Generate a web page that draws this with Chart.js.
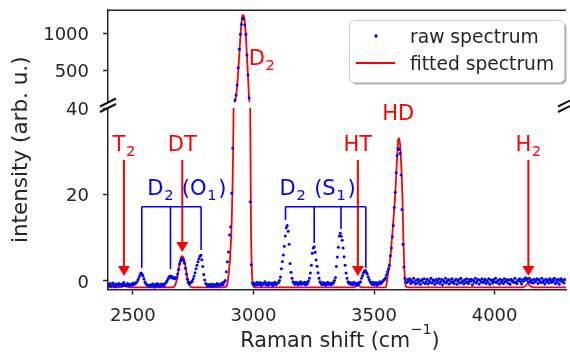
<!DOCTYPE html>
<html><head><meta charset="utf-8">
<script src="https://cdn.jsdelivr.net/npm/chart.js@4.4.1/dist/chart.umd.min.js"></script>
<style>html,body{margin:0;padding:0;background:#fff;overflow:hidden}canvas{display:block}</style>
</head><body>
<canvas id="c" width="570" height="352"></canvas>
<script>
// ---------------- DATA ----------------
const rawShift = [
 2398,2402,2406,2410,2414,2418,2422,2426,2430,2434,2438,2442,2446,2450,2454,2458,2462,2466,2470,2474,2478,2482,2486,2490,2494,2498,2502,2506,2510,
 2514,2518,2522,2526,2530,2534,2538,2542,2546,2550,2554,2558,2562,
 2566,2570,2574,2578,2582,2586,2590,2594,2598,2602,2606,2610,2614,2618,2622,2626,2630,2634,2638,
 2642,2646,2650,2654,2658,2662,2666,2670,2674,2678,
 2682,2686,2690,2694,2698,2702,2706,2710,2714,2718,2722,2726,2730,2734,2738,
 2742,2746,2750,2754,2758,2762,2766,2770,2774,2778,2782,2786,2790,2794,2798,
 2802,2806,2810,2814,2818,2822,2826,2830,2834,2838,2842,2846,2850,2854,2858,2862,2866,2870,2874,2878,
 2883,2887.5,2892,2896.5,2901,2905.5,2910,2914.5,2919,2923.5,2928,2932.5,2937,2941.5,2946,2950.5,2955,2959.5,2964,2968.5,2973,2977.5,2982,2986.5,2991,2995.5,
 3000,3004,3008,3012,3016,3020,3024,3028,3032,3036,3040,3044,3048,3052,3056,3060,3064,3068,3072,3076,3080,3084,3088,3092,3096,3100,3104,3108,
 3112,3116,3120,3124,3128,3132,3136,3140,3144,3148,3152,3156,3160,3164,
 3168,3172,3176,3180,3184,3188,3192,3196,3200,3204,3208,3212,3216,3220,3224,3228,
 3232,3236,3240,3244,3248,3252,3256,3260,3264,3268,3272,3276,
 3280,3284,3288,3292,3296,3300,3304,3308,3312,3316,3320,3324,3328,3332,3336,3340,
 3344,3348,3352,3356,3360,3364,3368,3372,3376,3380,3384,3388,
 3392,3396,3400,3404,3408,3412,3416,3420,3424,3428,3432,3436,3440,3444,3448,
 3452,3456,3460,3464,3468,3472,3476,3480,3484,
 3488,3492,3496,3500,3504,3508,3512,3516,3520,3524,3528,3532,3536,3540,
 3544,3548,3552,3556,3560,3564,3568,3572,3576,3580,3584,3588,3592,3596,3600,3604,3608,3612,3616,3620,3624,3628,3632,
 3636,3640,3644,3648,3652,3656,3660,3664,3668,3672,
 3676,3680,3684,3688,3692,3696,3700,3704,3708,3712,
 3716,3720,3724,3728,3732,3736,3740,3744,3748,3752,
 3756,3760,3764,3768,3772,3776,3780,3784,3788,3792,
 3796,3800,3804,3808,3812,3816,3820,3824,3828,3832,
 3836,3840,3844,3848,3852,3856,3860,3864,3868,3872,
 3876,3880,3884,3888,3892,3896,3900,3904,3908,3912,
 3916,3920,3924,3928,3932,3936,3940,3944,3948,3952,
 3956,3960,3964,3968,3972,3976,3980,3984,3988,3992,
 3996,4000,4004,4008,4012,4016,4020,4024,4028,4032,
 4036,4040,4044,4048,4052,4056,4060,4064,4068,4072,
 4076,4080,4084,4088,4092,4096,4100,4104,4108,4112,
 4116,4120,4124,4128,4132,4136,4140,4144,4148,4152,
 4156,4160,4164,4168,4172,4176,4180,4184,4188,4192,
 4196,4200,4204,4208,4212,4216,4220,4224,4228,4232,
 4236,4240,4244,4248,4252,4256,4260,4264,4268,4272,
 4276,4280,4284,4288,4292
];
const rawIntensity = [
 -0.8,-1.1,-0.6,-1.2,-0.9,-0.5,-1.0,-1.3,-0.7,-0.9,-1.1,-0.6,-1.0,-0.8,-1.2,-0.7,-0.4,-1.0,-0.9,-1.1,-0.6,-0.8,-1.2,-0.9,-0.7,-1.0,-0.5,-0.8,-0.6,
 -0.4,-0.2,0.3,0.9,1.4,1.8,1.6,1.2,0.5,-0.2,-0.6,-0.9,-1.0,
 -1.1,-1.3,-0.9,-1.2,-0.7,-1.0,-1.4,-0.8,-1.1,-0.6,-1.2,-0.9,-1.3,-0.7,-1.0,-0.8,-1.2,-0.6,-0.4,
 0.0,0.5,0.9,1.1,0.8,1.0,0.6,0.8,0.5,0.7,
 0.8,1.6,2.6,3.9,4.6,5.2,5.0,4.7,4.1,2.9,1.6,0.4,-0.4,-0.7,-0.3,
 -0.4,-0.1,0.5,1.1,1.9,2.8,3.6,4.4,5.1,5.7,5.9,4.9,3.3,1.5,0.2,
 -0.6,-0.8,-1.3,-0.9,-1.2,-0.7,-1.0,-1.3,-0.8,-1.1,-0.9,-1.2,-0.6,-1.0,-0.8,-1.1,-0.7,-0.5,-0.9,-0.3,
 0.1,2.1,4.4,6.7,10.6,12.5,20.3,30.7,62,108,175,309,540,786,987,1120,1200,1191,1111,987,710,443,139,18.3,3.7,-0.5,
 -0.8,-0.5,-1.0,-0.6,-0.3,-0.9,-0.7,-0.4,-1.1,-0.6,-0.8,-0.5,-0.2,-0.9,-0.6,-1.0,-0.4,-0.7,-0.8,-0.5,-1.2,-0.6,-0.3,-0.9,-0.7,-0.5,-0.4,0.1,
 0.9,2.8,4.5,6.0,8.0,10.4,12.3,12.8,11.5,8.5,4.0,2.0,0.6,-0.2,
 -0.5,-0.8,-0.3,-0.6,-0.9,-0.4,-0.7,-0.2,-0.8,-0.5,-0.6,-0.3,-0.9,-0.4,-0.7,-0.1,
 0.6,1.8,3.6,6.4,7.6,7.9,6.6,4.8,3.4,1.9,0.6,-0.2,
 -0.6,-0.9,-0.4,-0.8,-0.5,-1.0,-0.7,-0.3,-0.8,-0.6,-0.9,-0.5,-0.7,-0.4,0.1,0.8,
 3.3,5.5,7.8,10.4,11.0,10.3,9.4,7.6,5.6,3.6,1.8,0.6,
 -0.2,-0.6,-0.4,-0.8,-0.5,-0.9,-0.3,-0.7,-0.6,-1.0,-0.5,-0.8,-0.4,-0.2,0.6,
 1.2,1.8,2.2,2.4,2.0,1.6,0.9,0.3,-0.2,
 -0.5,-0.8,-0.3,-0.9,-0.6,-0.4,-1.0,-0.5,-0.7,-0.2,-0.6,-0.4,-0.1,0.2,
 0.3,0.7,1.4,2.1,2.8,3.6,5.8,7.6,10.2,12.8,17.0,20.5,25.0,29.0,30.6,30.4,29.5,24.5,16.5,8.5,3.2,0.6,-0.2,
 -0.4,0.3,-0.1,0.5,-0.6,0.1,-0.3,0.6,-0.2,-0.7,
 0.2,-0.5,0.4,-0.1,-0.8,0.0,0.3,-0.4,0.5,-0.6,
 -0.2,0.4,-0.7,0.1,-0.3,0.6,-0.5,0.2,-0.1,-0.8,
 0.3,-0.4,0.0,0.5,-0.6,-0.2,0.4,-0.9,0.1,-0.3,
 0.6,-0.5,-0.1,0.3,-0.7,0.2,-0.4,0.5,-0.2,-0.6,
 0.1,0.4,-0.8,-0.1,0.3,-0.5,0.6,-0.3,0.0,-0.7,
 0.2,-0.4,0.5,-0.2,-0.6,0.3,-0.1,0.4,-0.9,0.1,
 -0.3,0.6,-0.5,0.0,0.3,-0.7,0.2,-0.2,0.5,-0.4,
 -0.1,0.4,-0.6,0.1,-0.3,0.5,-0.8,0.2,0.0,-0.5,
 0.3,-0.2,0.6,-0.4,-0.1,0.2,-0.7,0.4,-0.3,0.1,
 -0.6,0.5,-0.2,0.0,0.3,-0.5,0.2,-0.8,0.4,-0.1,
 0.1,-0.4,0.6,-0.3,-0.6,0.2,0.0,0.5,-0.2,-0.7,
 0.3,-0.1,0.4,0.7,0.2,0.5,-0.3,0.6,0.1,-0.4,
 0.2,-0.5,0.4,-0.2,0.0,0.5,-0.6,0.3,-0.1,-0.4,
 0.6,-0.3,0.1,-0.7,0.4,-0.2,0.2,-0.5,0.5,0.0,
 -0.4,0.3,-0.1,0.6,-0.6,0.2,-0.3,0.4,-0.8,0.1,
 0.5,-0.2,0.2,-0.5,0.3
];
const fitShift = [2397,2440,2455,2465,2475,2490,2660,2672,2678,2682,2686,2692,2697,2702,2706,2710,2715,2720,2725,2730,2737,2745,
 2870,2885,2892,2898,2904,2910,2915,2920,2925,2930,2935,2940,2945,2950,2955,2958,2962,2966,2970,2974,2978,2982,2986,2990,2994,2998,3005,
 3415,3425,3433,3441,3450,
 3540,3549,3556,3563,3569,3576,3583,3590,3595,3600,3603,3607,3611,3615,3618,3622,3625,3628,3632,3638,
 4110,4125,4138,4150,4162,4296];
const fitIntensity = [-1.5,-1.5,-1.35,-1.2,-1.35,-1.5,-1.5,-1.3,-0.6,0.2,1.5,3.5,4.9,5.6,5.7,5.4,4.4,2.8,1.0,-0.3,-1.2,-1.5,
 -1.5,-1.4,-0.6,2,6,14,27,52,110,215,400,640,900,1120,1240,1245,1205,1090,880,640,390,130,45,12,2,-1,-1.5,
 -1.5,-1.3,-1.0,-1.3,-1.5,
 -1.5,-1.5,1.0,3.3,6.2,10.9,16.1,22,28,32.5,33,32,29,24,19,9,4,0.5,-1.2,-1.5,
 -1.5,-1.3,-0.7,-1.3,-1.5,-1.5];

const xTicks = [2500, 3000, 3500, 4000];
const lowTicks = [0, 20, 40];
const highTicks = [500, 1000];

// Q-branch markers (red arrows)
const qLabels = ['T_2', 'DT', 'HT', 'H_2'];
const qShift = [2463, 2705, 3433, 4140];
const qArrowTip = [1.12, 6.68, 1.12, 1.12];
const qLabelLevel = 30.05;
const qArrowTail = 27.97;
const hdLabel = 'HD', hdShift = 3600, hdLevel = 37.3;
const d2Label = 'D_2', d2Shift = 2981, d2Level = 576;

// D2 O1 / S1 combs (blue)
const o1Label = 'D_2 (O_1)', o1LabelShift = 2724;
const o1Lines = [2537, 2656, 2783];
const o1Ends = [2.98, 2.7, 7.14];
const s1Label = 'D_2 (S_1)', s1LabelShift = 3266;
const s1Lines = [3133, 3252, 3363, 3466];
const s1Ends = [14.08, 8.76, 12.0, 2.98];
const combLevel = 17.16, combLabelLevel = 19.87;

const legendLabels = ['raw spectrum', 'fitted spectrum'];

// ---------------- RENDER ----------------
const RED = '#ff0000', BLUE = '#0000ff', INK = '#262626', FAM = '"DejaVu Sans"';
Chart.defaults.font.family = 'DejaVu Sans';

function parseRich(str) {
  const toks = [];
  for (let i = 0; i < str.length; i++) {
    let c = str[i], k = 'n';
    if ((c === '_' || c === '^') && i + 1 < str.length) { k = c === '_' ? 'sub' : 'sup'; c = str[++i]; }
    const last = toks[toks.length - 1];
    if (last && last.k === k) last.t += c; else toks.push({t: c, k});
  }
  return toks;
}
function drawRich(ctx, str, x, y, size, color, align, gap) {
  gap = gap || 0;
  const toks = parseRich(str);
  let w = 0;
  toks.forEach((tk, i) => {
    tk.size = tk.k === 'n' ? size : size * 0.7; ctx.font = tk.size + 'px ' + FAM;
    tk.w = ctx.measureText(tk.t).width;
    if (tk.k === 'sub' && i < toks.length - 1) tk.w += gap;
    tk.pre = tk.k === 'sub' ? gap * 0.5 : 0;
    w += tk.w + tk.pre;
  });
  let cx = align === 'center' ? x - w / 2 : align === 'right' ? x - w : x;
  ctx.fillStyle = color; ctx.textBaseline = 'alphabetic'; ctx.textAlign = 'left';
  toks.forEach(tk => {
    ctx.font = tk.size + 'px ' + FAM;
    const dy = tk.k === 'sub' ? size * 0.22 : tk.k === 'sup' ? -size * 0.62 : 0;
    cx += tk.pre;
    ctx.fillText(tk.t, cx, y + dy); cx += tk.w;
  });
}
function line(ctx, x1, y1, x2, y2) { ctx.beginPath(); ctx.moveTo(x1, y1); ctx.lineTo(x2, y2); ctx.stroke(); }
function arrow(ctx, x, yTail, yTip, color) {
  ctx.strokeStyle = color; ctx.fillStyle = color; ctx.lineWidth = 2;
  line(ctx, x, yTail, x, yTip - 9);
  ctx.beginPath(); ctx.moveTo(x - 6, yTip - 10); ctx.lineTo(x + 6, yTip - 10); ctx.lineTo(x, yTip); ctx.closePath(); ctx.fill();
}

const clipPlugin = {
  id: 'clipToScale',
  beforeDatasetDraw(chart, args) {
    const ys = chart.scales[args.meta.yAxisID], a = chart.chartArea, ctx = chart.ctx;
    ctx.save(); ctx.beginPath(); ctx.rect(a.left, ys.top, a.right - a.left, ys.bottom - ys.top); ctx.clip();
  },
  afterDatasetDraw(chart) { chart.ctx.restore(); }
};

const decor = {
  id: 'decor',
  afterDraw(chart) {
    const ctx = chart.ctx, X = chart.scales.x, L = chart.scales.yLow, H = chart.scales.yHigh, a = chart.chartArea;
    ctx.save();
    // top spine
    ctx.strokeStyle = INK; ctx.lineWidth = 1.5;
    line(ctx, a.left, a.top + 0.25, a.right, a.top + 0.25);
    // break marks
    ctx.strokeStyle = '#111'; ctx.lineWidth = 2;
    [a.left, a.right].forEach(x => [H.bottom, L.top].forEach(y => line(ctx, x - 8, y + 4, x + 8, y - 4)));
    // red Q-branch arrows and labels
    for (let i = 0; i < qLabels.length; i++) {
      const x = X.getPixelForValue(qShift[i]);
      drawRich(ctx, qLabels[i], x, L.getPixelForValue(qLabelLevel), 21, RED, 'center', 1);
      arrow(ctx, x, L.getPixelForValue(qArrowTail), L.getPixelForValue(qArrowTip[i]), RED);
    }
    drawRich(ctx, hdLabel, X.getPixelForValue(hdShift), L.getPixelForValue(hdLevel), 21, RED, 'center');
    drawRich(ctx, d2Label, X.getPixelForValue(d2Shift), H.getPixelForValue(d2Level), 21, RED, 'left', 1);
    // blue combs
    const comb = (lines, ends, label, lx) => {
      ctx.strokeStyle = BLUE; ctx.lineWidth = 1.6;
      const yb = L.getPixelForValue(combLevel);
      line(ctx, X.getPixelForValue(lines[0]), yb, X.getPixelForValue(lines[lines.length - 1]), yb);
      lines.forEach((v, i) => { const x = X.getPixelForValue(v); line(ctx, x, yb, x, L.getPixelForValue(ends[i])); });
      drawRich(ctx, label, X.getPixelForValue(lx), L.getPixelForValue(combLabelLevel), 21, BLUE, 'center', 1.6);
    };
    comb(o1Lines, o1Ends, o1Label, o1LabelShift);
    comb(s1Lines, s1Ends, s1Label, s1LabelShift);
    // axis titles
    drawRich(ctx, 'Raman shift (cm^−^1)', (a.left + a.right) / 2 + 3, 347, 20.7, INK, 'center');
    ctx.save(); ctx.translate(27, (a.top + a.bottom) / 2); ctx.rotate(-Math.PI / 2);
    drawRich(ctx, 'intensity (arb. u.)', 0, 0, 21.5, INK, 'center');
    ctx.restore();
    // legend
    const bx = 349, by = 20, bw = 215, bh = 62;
    ctx.fillStyle = '#b0b0b0';
    ctx.beginPath(); ctx.roundRect(bx + 2.5, by + 2.5, bw, bh, 5); ctx.fill();
    ctx.fillStyle = '#ffffff'; ctx.strokeStyle = '#cccccc'; ctx.lineWidth = 1;
    ctx.beginPath(); ctx.roundRect(bx + 0.5, by + 0.5, bw, bh, 5); ctx.fill(); ctx.stroke();
    ctx.fillStyle = BLUE; ctx.beginPath(); ctx.arc(376, 36, 1.7, 0, Math.PI * 2); ctx.fill();
    ctx.strokeStyle = RED; ctx.lineWidth = 1.8; line(ctx, 356, 63, 395, 63);
    ctx.fillStyle = INK; ctx.font = '18.7px ' + FAM; ctx.textAlign = 'left'; ctx.textBaseline = 'alphabetic';
    ctx.fillText(legendLabels[0], 410, 43);
    ctx.fillText(legendLabels[1], 410, 70);
    ctx.restore();
  }
};

const rawPts = () => rawShift.map((x, i) => ({x, y: rawIntensity[i]}));
const fitPts = () => fitShift.map((x, i) => ({x, y: fitIntensity[i]}));
const fmt = v => String(v);
const yCommon = {
  type: 'linear', position: 'left', stack: 'y',
  ticks: { font: {size: 18}, color: INK, padding: 14, labelOffset: 2, callback: fmt },
  grid: { drawOnChartArea: false, tickLength: 5, tickWidth: 1.5, tickColor: INK },
  border: { color: INK, width: 1.5 },
  afterFit: s => { s.width = 108; s.paddingTop = 0; s.paddingBottom = 0; }
};

new Chart(document.getElementById('c'), {
  type: 'scatter',
  data: { datasets: [
    { label: legendLabels[0], data: rawPts(), yAxisID: 'yLow', showLine: false, pointRadius: 1.5, pointBorderWidth: 0, pointBackgroundColor: BLUE, order: 0 },
    { label: legendLabels[0], data: rawPts(), yAxisID: 'yHigh', showLine: false, pointRadius: 1.5, pointBorderWidth: 0, pointBackgroundColor: BLUE, order: 0 },
    { label: legendLabels[1], data: fitPts(), yAxisID: 'yLow', showLine: true, borderColor: RED, borderWidth: 1.8, pointRadius: 0, cubicInterpolationMode: 'monotone', order: 1 },
    { label: legendLabels[1], data: fitPts(), yAxisID: 'yHigh', showLine: true, borderColor: RED, borderWidth: 1.8, pointRadius: 0, cubicInterpolationMode: 'monotone', order: 1 }
  ]},
  options: {
    responsive: false, animation: false, devicePixelRatio: 1, events: [],
    layout: { padding: { top: 10, left: 0, right: 0, bottom: 0 } },
    plugins: { legend: { display: false }, tooltip: { enabled: false } },
    scales: {
      x: {
        type: 'linear', position: 'bottom', min: 2397, max: 4296,
        afterBuildTicks: s => { s.ticks = xTicks.map(v => ({value: v})); },
        afterFit: s => { s.height = 62.5; s.paddingLeft = 0; s.paddingRight = 0; },
        ticks: { font: {size: 18}, color: INK, padding: 11, maxRotation: 0, autoSkip: false, callback: fmt },
        grid: { drawOnChartArea: false, tickLength: 5, tickWidth: 1.5, tickColor: INK },
        border: { color: INK, width: 1.5 }
      },
      yHigh: Object.assign({}, yCommon, { min: 75, max: 1311, stackWeight: 92.5, weight: 3,
        afterBuildTicks: s => { s.ticks = highTicks.map(v => ({value: v})); } }),
      yGap: Object.assign({}, yCommon, { min: 0, max: 1, stackWeight: 5.5, weight: 2,
        ticks: { display: false }, grid: { display: false }, border: { display: false } }),
      yLow: Object.assign({}, yCommon, { min: -2, max: 40, stackWeight: 181.5, weight: 1,
        afterBuildTicks: s => { s.ticks = lowTicks.map(v => ({value: v})); } })
    }
  },
  plugins: [clipPlugin, decor]
});
</script>
</body></html>
